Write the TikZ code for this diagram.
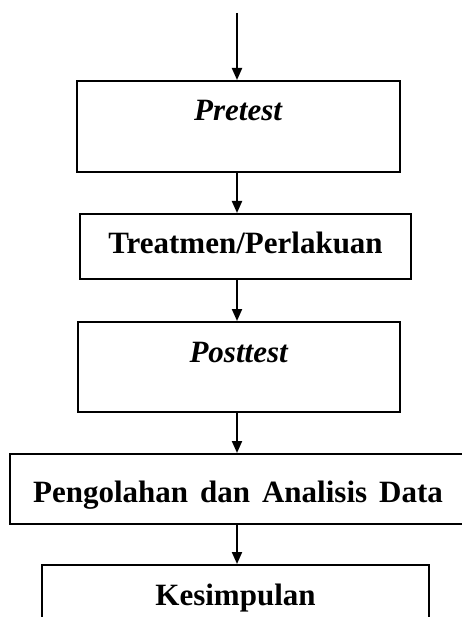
\documentclass[tikz,border=0pt]{standalone}
\usepackage{fontspec}
\setmainfont{Liberation Serif}
\usetikzlibrary{arrows.meta}

\begin{document}
\begin{tikzpicture}[
  x=1pt, y=-1pt,
  font=\fontsize{31}{36}\selectfont\bfseries,
  box/.style={draw, line width=1.8pt, inner sep=0pt, anchor=north},
  flow/.style={-{Triangle[length=12pt, width=10pt]}, line width=2pt},
]
\useasboundingbox (0,0) rectangle (462,617);
\clip (0,0) rectangle (462,617);

% boxes: top edge, width and baseline
\node[box, minimum width=323pt, text height=40pt, text depth=51pt] (pre) at (238.5,80) {\textit{Pretest}};
\node[box, minimum width=331pt, text height=40pt, text depth=25pt] (treat) at (245.5,213) {Treatmen/Perlakuan};
\node[box, minimum width=322pt, text height=41pt, text depth=49pt] (post) at (239,321) {\textit{Posttest}};
\node[box, minimum width=456pt, text height=49pt, text depth=21pt] (proc) at (238,453) {\spaceskip=12pt Pengolahan dan Analisis Data};
\node[box, minimum width=387pt, text height=41pt, text depth=35pt] (concl) at (235.5,564) {Kesimpulan};

% arrows down the middle
\coordinate (top) at (237,13);
\draw[flow] (top) -- (top |- pre.north);
\foreach \a/\b in {pre/treat, treat/post, post/proc, proc/concl}
  \draw[flow] (top |- \a.south) -- (top |- \b.north);

\end{tikzpicture}
\end{document}
